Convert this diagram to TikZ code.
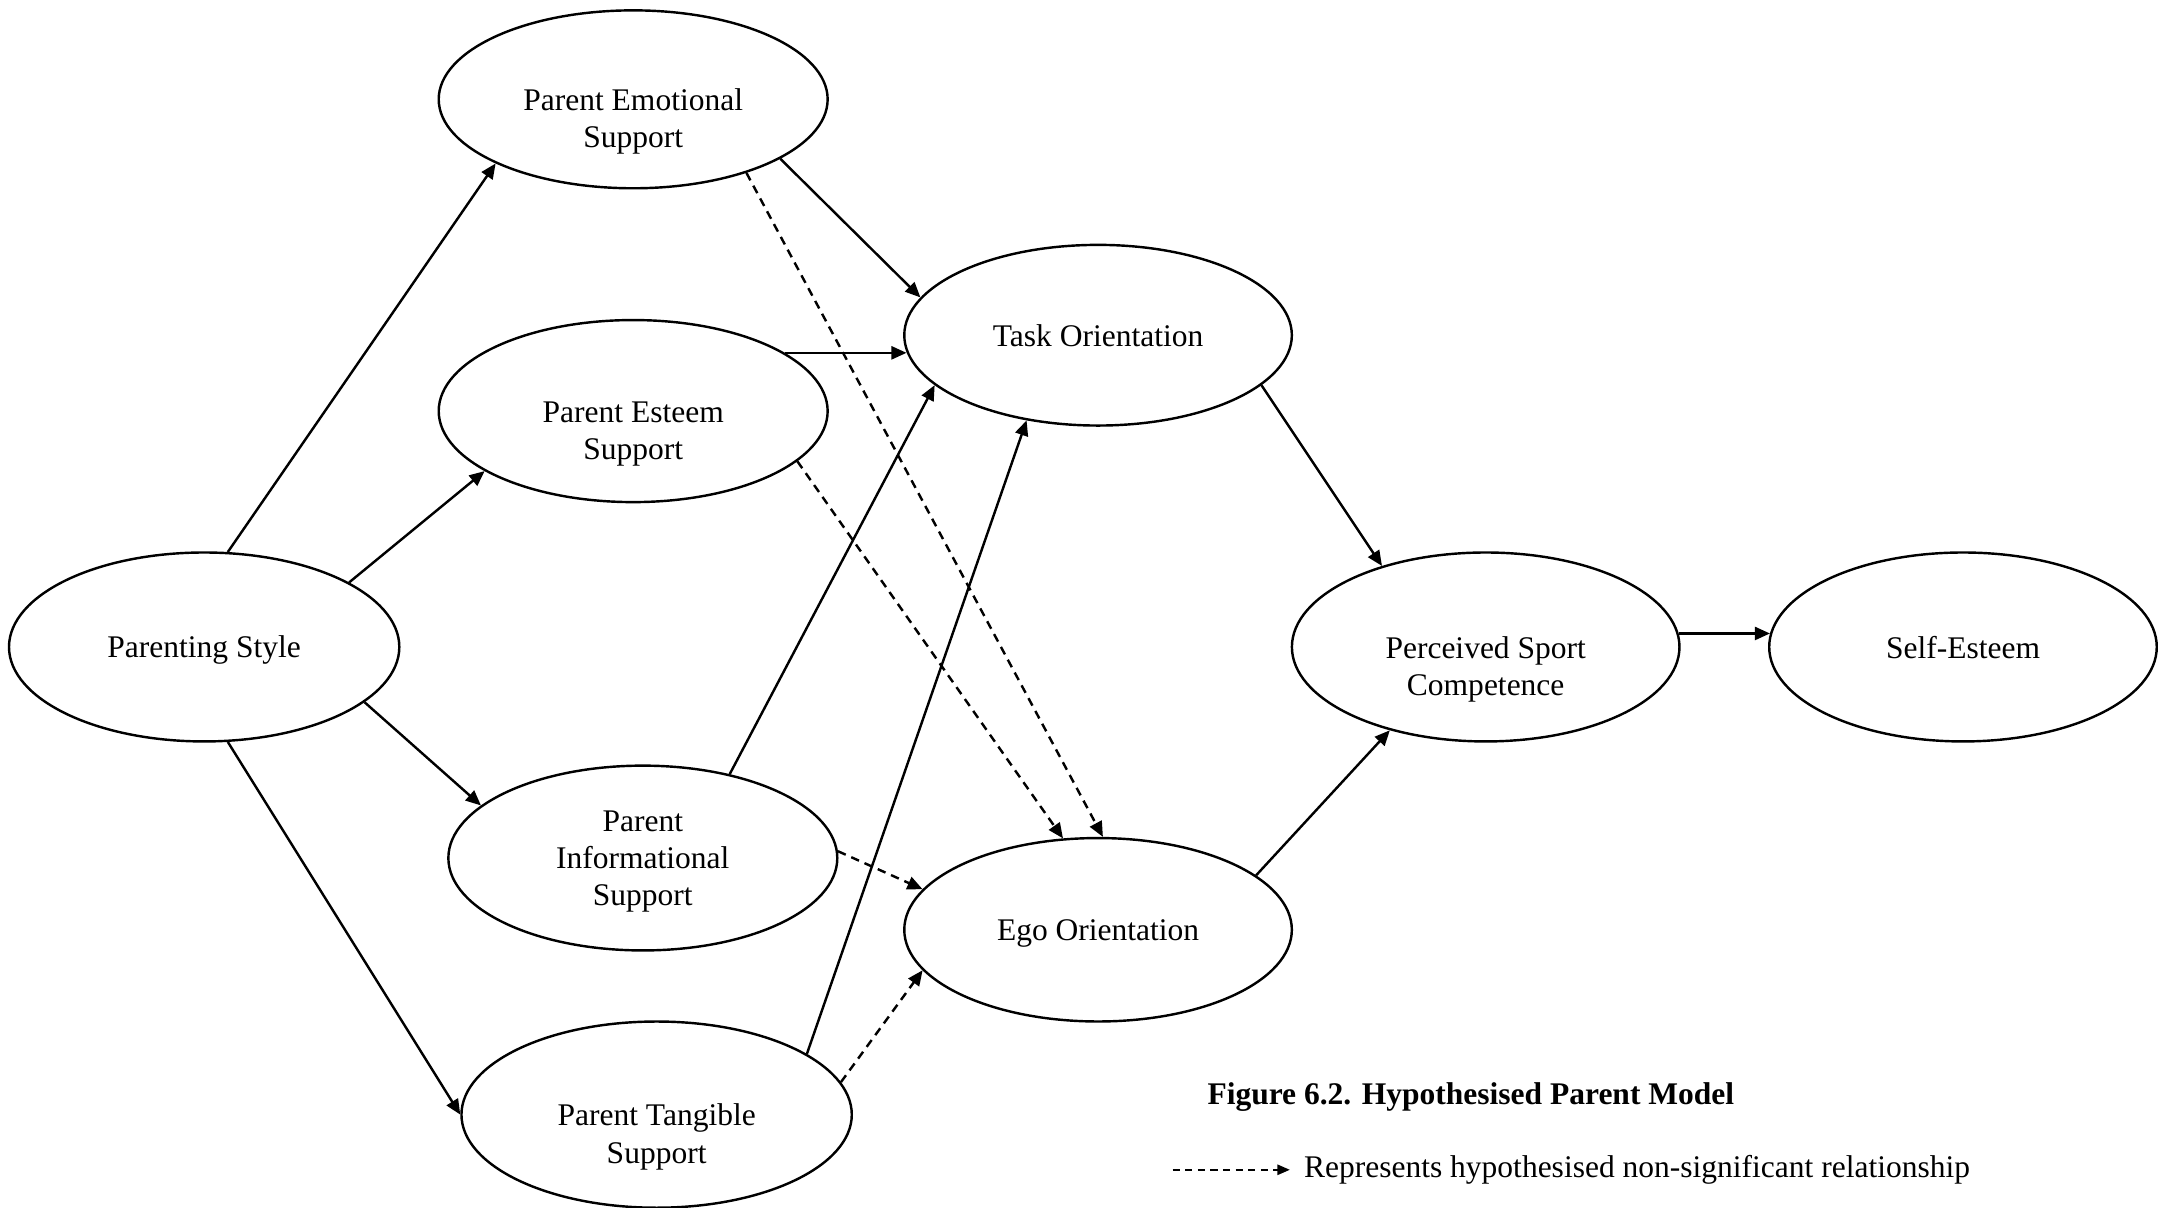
\documentclass[tikz,border=0pt]{standalone}
\usepackage{fontspec}
\setmainfont{Liberation Serif}
\usetikzlibrary{arrows.meta, shapes.geometric}

\begin{document}
\begin{tikzpicture}[x=0.02cm, y=-0.02cm,
  var/.style={draw, ellipse, line width=1pt, inner sep=0pt, minimum width=5.62cm, minimum height=2.68cm, align=center, text depth=0pt, font=\fontsize{13}{15.4}\selectfont},
  twoline/.style={text height=40pt, text depth=0pt},
  rel/.style={line width=1pt, -{Triangle[length=2.2mm, width=1.9mm]}},
  nsrel/.style={rel, dash pattern=on 3.5pt off 2.5pt},
  txt/.style={inner sep=0pt, anchor=west, font=\fontsize{13}{15.4}\selectfont}]
\useasboundingbox (0,0) rectangle (1568,875);
% variables
\node[var, minimum width=5.66cm, minimum height=2.74cm] (ps) at (148,469) {Parenting Style};
\node[var, twoline, minimum width=5.64cm, minimum height=2.58cm] (pes) at (459,72) {Parent Emotional\\Support};
\node[var, twoline, minimum width=5.64cm, minimum height=2.64cm] (pest) at (459,298) {Parent Esteem\\Support};
\node[var, minimum width=5.64cm] (pis) at (466,622) {Parent\\Informational\\Support};
\node[var, twoline, minimum width=5.66cm, minimum height=2.7cm] (pts) at (476,808) {Parent Tangible\\Support};
\node[var, minimum height=2.62cm] (task) at (796,243) {Task Orientation};
\node[var, minimum height=2.66cm] (ego) at (796,674) {Ego Orientation};
\node[var, twoline, minimum height=2.74cm] (psc) at (1077,469) {Perceived Sport\\Competence};
\node[var, minimum height=2.74cm] (se) at (1423,469) {Self-Esteem};
% paths
\draw[rel] (ps.76) -- (pes.205);
\draw[rel] (ps.24) -- (pest.202);
\draw[rel] (ps.341) -- (pis.162);
\draw[rel] (ps.284) -- (pts.180);
\draw[rel] (pes.338) -- (task.168);
\draw[nsrel] (pes.327) -- (ego.87);
\draw[rel, shorten >=-0.05cm] (pest.21) -- (pest.21 -| task.west);
\draw[nsrel] (pest.343) -- (ego.111);
\draw[rel] (pis.44) -- (task.197);
\draw[nsrel] (pis.2) -- (ego.167);
\draw[rel] (pts.22) -- (task.230);
\draw[nsrel] (pts.10) -- (ego.193);
\draw[rel] (task.343) -- (psc.142);
\draw[rel] (ego.19) -- (psc.221);
\draw[rel] (psc.4) -- (se.176);
% caption and legend
\node[txt, font=\fontsize{13}{15.4}\selectfont\bfseries] (cap) at (875,795) {Figure 6.2. Hypothesised Parent Model};
\node[txt] (legtxt) at (945,848) {Represents hypothesised non-significant relationship};
\coordinate (legstart) at (850,848);
\draw[line width=0.7pt, dash pattern=on 3pt off 2.2pt, -{Triangle[length=1.8mm, width=1.5mm]}] (legstart) -- ([xshift=-0.2cm]legtxt.west);
\end{tikzpicture}
\end{document}
